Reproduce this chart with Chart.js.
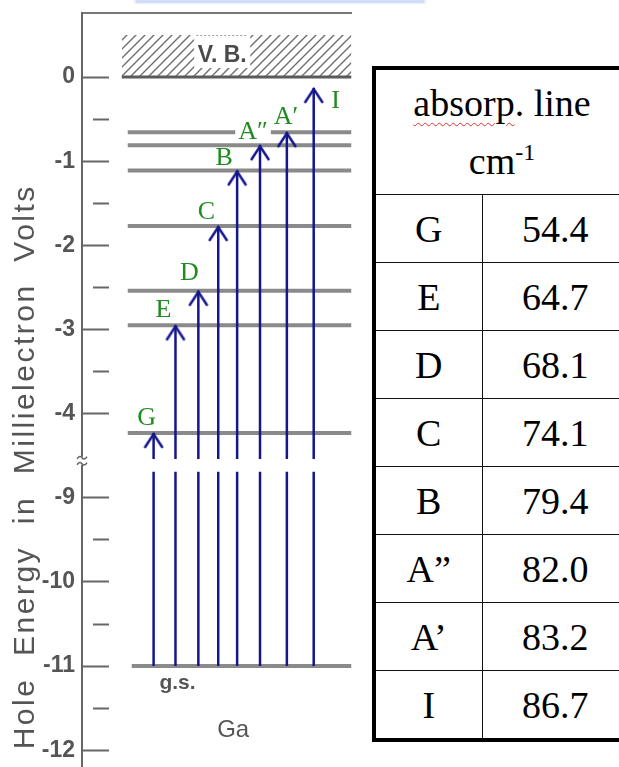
<!DOCTYPE html>
<html>
<head>
<meta charset="utf-8">
<script src="https://cdn.jsdelivr.net/npm/chart.js@4.4.0/dist/chart.umd.min.js"></script>
<style>
  html, body { margin: 0; padding: 0; width: 619px; height: 767px; overflow: hidden; background: #fff; }
  #levels { position: absolute; left: 0; top: 0; }
  #smear { position: absolute; left: 135px; top: 0; width: 290px; height: 3px; background: #c3cff5; filter: blur(0.8px); }
  #lines {
    position: absolute; left: 372px; top: 66px; width: 256px;
    table-layout: fixed; border-collapse: collapse; border: 4px solid #000;
    font-family: "Liberation Serif", "Times New Roman", serif; font-size: 38px; color: #000;
  }
  #lines td, #lines th { border: 1.5px solid #111; text-align: center; padding: 0; font-weight: normal; }
  #lines th { height: 124px; line-height: 58px; }
  #lines td { height: 67px; }
  #lines sup { font-size: 24px; vertical-align: 14px; line-height: 0; }
  .spell { text-decoration: underline wavy #e03030; text-decoration-thickness: 1px; text-underline-offset: 6px; }
</style>
</head>
<body>
<div id="smear"></div>
<canvas id="levels" width="360" height="929"></canvas>
<table id="lines">
  <colgroup><col style="width:108px"><col style="width:148px"></colgroup>
  <tr><th colspan="2"><span class="spell">absorp</span>. line<br>cm<sup>-1</sup></th></tr>
</table>
<script>
// transitions from the ground state of Ga, final-state energies in meV
const transitions = ['G', 'E', 'D', 'C', 'B', 'A″', 'A′', 'I'];
const arrowX      = [7.2, 9.4, 11.7, 13.7, 15.6, 17.9, 20.6, 23.3];
const finalMeV    = [-4.23, -2.95, -2.54, -1.77, -1.11, -0.81, -0.655, -0.13];
const labelX      = [6.5, 8.2, 10.8, 12.5, 14.3, 17.2, 20.5, 25.5];
const labelMeV    = [-4.05, -2.77, -2.33, -1.6, -0.96, -0.65, -0.48, -0.29];
const boundLevels = [-0.655, -0.81, -1.11, -1.77, -2.54, -2.95, -4.23];
const groundMeV   = -11;
const valenceTop  = 0.5;

// axis ticks (meV)
const yTicks      = [0, -1, -2, -3, -4, -9, -10, -11, -12];
const yMinorTicks = [-0.5, -1.5, -2.5, -3.5, -9.5, -10.5, -11.5];

// absorption lines, cm-1
const tableLines = ['G', 'E', 'D', 'C', 'B', 'A”', 'A’', 'I'];
const tableCm    = ['54.4', '64.7', '68.1', '74.1', '79.4', '82.0', '83.2', '86.7'];

// the axis skips -4.56 .. -8.56 meV
const breakAt = -4.56, breakShift = 4;
const breakHigh = -4.54, breakLow = -8.69;
function toAxis(v) { return v < breakAt - 1 ? v + breakShift : v; }
function fromAxis(v) { return v < breakAt ? v - breakShift : v; }

const arrowColour = '#15158c';
const levelColour = '#8a8a8a';
const axisColour = '#666';

function chevron() {
  const c = document.createElement('canvas');
  c.width = 22; c.height = 34;
  const g = c.getContext('2d');
  g.strokeStyle = arrowColour; g.lineWidth = 2.5; g.lineCap = 'round';
  g.beginPath();
  g.moveTo(2.5, 31); g.lineTo(11, 18); g.lineTo(19.5, 31);
  g.stroke();
  return c;
}

function hatch() {
  const c = document.createElement('canvas');
  c.width = 9; c.height = 9;
  const g = c.getContext('2d');
  g.strokeStyle = '#6e6e6e'; g.lineWidth = 1.4;
  g.beginPath();
  g.moveTo(-1, 10); g.lineTo(10, -1);
  g.moveTo(-1, 1); g.lineTo(1, -1);
  g.moveTo(8, 10); g.lineTo(10, 8);
  g.stroke();
  return g.createPattern(c, 'repeat');
}

const head = chevron();
const datasets = [];

// valence band
datasets.push({
  data: [{x: 4.0, y: valenceTop}, {x: 27.1, y: valenceTop}],
  fill: {value: 0}, backgroundColor: hatch(), borderWidth: 0, pointRadius: 0, order: 4
});
datasets.push({
  data: [{x: 4.0, y: 0}, {x: 27.1, y: 0}],
  borderColor: '#5a5a5a', borderWidth: 3, pointRadius: 0, order: 3
});

// bound hole states and ground state
boundLevels.forEach(e => datasets.push({
  data: [{x: 4.6, y: toAxis(e)}, {x: 27.1, y: toAxis(e)}],
  borderColor: levelColour, borderWidth: 4, pointRadius: 0, order: 2
}));
datasets.push({
  data: [{x: 5.0, y: toAxis(groundMeV)}, {x: 27.1, y: toAxis(groundMeV)}],
  borderColor: levelColour, borderWidth: 4, pointRadius: 0, order: 2
});

// transition arrows, broken at the axis gap
transitions.forEach((t, i) => datasets.push({
  data: [
    {x: arrowX[i], y: toAxis(groundMeV)},
    {x: arrowX[i], y: toAxis(breakLow)},
    {x: arrowX[i], y: null},
    {x: arrowX[i], y: toAxis(breakHigh)},
    {x: arrowX[i], y: toAxis(finalMeV[i])}
  ],
  borderColor: arrowColour, borderWidth: 2.5, spanGaps: false,
  pointStyle: head, pointRadius: ctx => ctx.dataIndex === 4 ? 6 : 0, order: 1
}));

// wide lettering for the axis title (drawn in the grid layer, before datasets)
const spacing = {
  id: 'spacing',
  beforeDraw(chart) { chart.ctx.letterSpacing = '2.5px'; },
  beforeDatasetsDraw(chart) { chart.ctx.letterSpacing = '0px'; }
};

const textLayer = {
  id: 'textLayer',
  afterDatasetsDraw(chart) {
    const {ctx, scales: {x, y}} = chart;
    ctx.save();
    ctx.textAlign = 'center';
    ctx.textBaseline = 'middle';

    // V.B. tag
    const vx = x.getPixelForValue(14.1), vy = y.getPixelForValue(0.26);
    ctx.fillStyle = '#fff';
    ctx.fillRect(vx - 28, y.getPixelForValue(valenceTop), 56, 33);
    ctx.strokeStyle = '#999'; ctx.lineWidth = 1; ctx.setLineDash([2, 2]);
    ctx.beginPath();
    ctx.moveTo(vx - 26, y.getPixelForValue(valenceTop) + 0.5);
    ctx.lineTo(vx + 26, y.getPixelForValue(valenceTop) + 0.5);
    ctx.stroke();
    ctx.setLineDash([]);
    ctx.fillStyle = '#4a4a4a';
    ctx.font = 'bold 23px "Liberation Sans", Arial, sans-serif';
    ctx.fillText('V. B.', vx, vy);

    // transition letters
    ctx.font = '26px "Liberation Serif", "Times New Roman", serif';
    transitions.forEach((t, i) => {
      const px = x.getPixelForValue(labelX[i]);
      const py = y.getPixelForValue(toAxis(labelMeV[i]));
      const w = ctx.measureText(t).width;
      ctx.fillStyle = '#fff';
      ctx.fillRect(px - w / 2 - 3, py - 10, w + 6, 19);
      ctx.fillStyle = '#1f8c1f';
      ctx.fillText(t, px, py);
    });

    // ground state and impurity
    ctx.fillStyle = '#555';
    ctx.font = 'bold 21px "Liberation Sans", Arial, sans-serif';
    ctx.fillText('g.s.', x.getPixelForValue(9.6), y.getPixelForValue(toAxis(-11.2)));
    ctx.font = '24px "Liberation Sans", Arial, sans-serif';
    ctx.fillText('Ga', x.getPixelForValue(15.2), y.getPixelForValue(toAxis(-11.77)));

    // break mark on the axis
    const bx = chart.chartArea.left, by = y.getPixelForValue(breakAt);
    ctx.fillStyle = '#fff';
    ctx.fillRect(bx - 3, by - 4, 6, 8);
    ctx.strokeStyle = axisColour; ctx.lineWidth = 1.5;
    [-3, 3].forEach(d => {
      ctx.beginPath();
      ctx.moveTo(bx - 5, by + d + 1);
      ctx.quadraticCurveTo(bx - 2, by + d - 3, bx, by + d);
      ctx.quadraticCurveTo(bx + 2, by + d + 3, bx + 5, by + d - 1);
      ctx.stroke();
    });
    ctx.restore();
  }
};

const isMajor = v => yTicks.map(toAxis).includes(v);

new Chart(document.getElementById('levels'), {
  type: 'line',
  data: {datasets},
  options: {
    responsive: false,
    animation: false,
    layout: {padding: {top: 13, right: 7, left: 0, bottom: 0}},
    plugins: {legend: {display: false}, tooltip: {enabled: false}},
    scales: {
      x: {
        type: 'linear', position: 'top', min: 0, max: 27.1,
        ticks: {display: false},
        grid: {display: false, drawTicks: false},
        border: {display: true, color: '#777', width: 2}
      },
      y: {
        type: 'linear', min: -10.024, max: 0.762,
        afterBuildTicks: s => {
          s.ticks = yTicks.concat(yMinorTicks).map(v => ({value: toAxis(v)}));
        },
        afterFit: s => { s.width = 82; s.paddingTop = 0; s.paddingBottom = 0; },
        ticks: {
          autoSkip: false, padding: 34, color: '#555', z: 1,
          font: {family: '"Liberation Sans", Arial, sans-serif', size: 23, weight: 'bold'},
          callback: v => isMajor(v) ? String(fromAxis(v)) : ''
        },
        grid: {
          display: true, drawOnChartArea: false, drawTicks: true,
          tickLength: -27, tickColor: axisColour, tickWidth: 2,
          tickBorderDash: ctx => isMajor(ctx.tick.value) ? [] : [16, 100]
        },
        border: {display: true, color: axisColour, width: 2},
        title: {
          display: true, text: 'Hole  Energy  in  Millielectron  Volts', color: '#555',
          font: {family: '"Liberation Sans", Arial, sans-serif', size: 30},
          padding: {top: 8, bottom: 0}
        }
      }
    }
  },
  plugins: [spacing, textLayer]
});

// absorption line table
const tbl = document.getElementById('lines');
tableLines.forEach((n, i) => {
  const tr = tbl.insertRow();
  tr.insertCell().textContent = n;
  tr.insertCell().textContent = tableCm[i];
});
</script>
</body>
</html>
